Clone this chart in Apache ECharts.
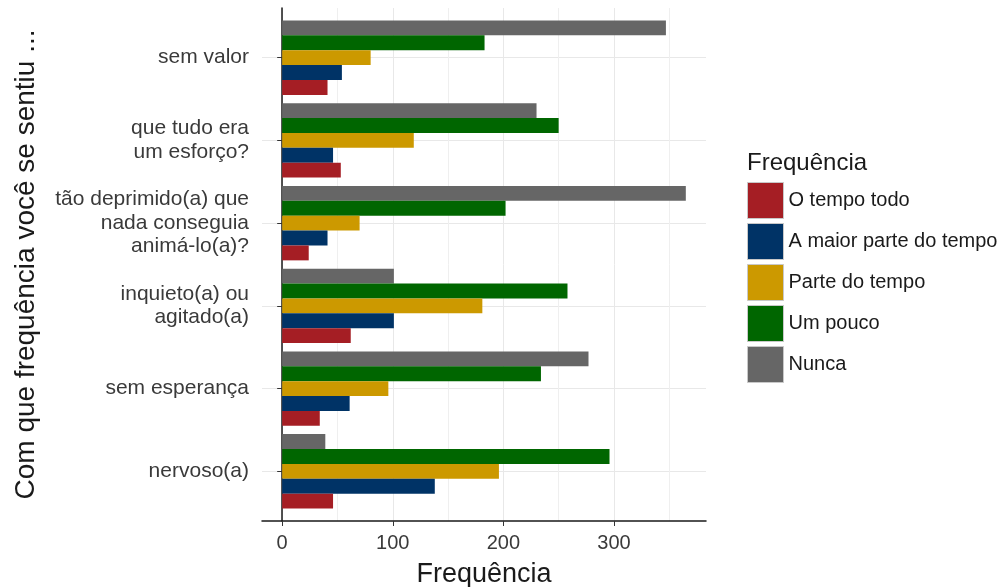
<!DOCTYPE html>
<html><head><meta charset="utf-8">
<script src="https://cdn.jsdelivr.net/npm/echarts@6/dist/echarts.min.js"></script>
<style>html,body{margin:0;padding:0;background:#fff}#c{width:1004px;height:587px}</style>
</head><body><div id="c"></div>
<script>
// categories listed bottom -> top
const categories = ['nervoso(a)', 'sem esperança', 'inquieto(a) ou\nagitado(a)', 'tão deprimido(a) que\nnada conseguia\nanimá-lo(a)?', 'que tudo era\num esforço?', 'sem valor'];
const oTempoTodo   = [46, 34, 62, 24, 53, 41];
const aMaiorParte  = [138, 61, 101, 41, 46, 54];
const parteDoTempo = [196, 96, 181, 70, 119, 80];
const umPouco      = [296, 234, 258, 202, 250, 183];
const nunca        = [39, 277, 101, 365, 230, 347];
const seriesNames  = ['O tempo todo', 'A maior parte do tempo', 'Parte do tempo', 'Um pouco', 'Nunca'];
const xTicks = [0, 100, 200, 300];
const xMinorGrid = [50, 150, 250, 350];

const colors = {'O tempo todo':'#A51E24','A maior parte do tempo':'#003366','Parte do tempo':'#CC9900','Um pouco':'#006600','Nunca':'#666666'};
const values = {'O tempo todo':oTempoTodo,'A maior parte do tempo':aMaiorParte,'Parte do tempo':parteDoTempo,'Um pouco':umPouco,'Nunca':nunca};

const allVals = [].concat(oTempoTodo, aMaiorParte, parteDoTempo, umPouco, nunca);
const vmax = Math.max.apply(null, allVals);
const xMin = -0.05 * vmax, xMax = 1.05 * vmax;

const FONT = 'Liberation Sans, Arial, sans-serif';
const chart = echarts.init(document.getElementById('c'), null, {renderer: 'canvas'});

// top->bottom series order inside a group: Nunca on top
const drawOrder = seriesNames.slice().reverse();

chart.setOption({
  animation: false,
  backgroundColor: '#ffffff',
  textStyle: {fontFamily: FONT},
  title: {
    text: 'Frequência', left: 747, top: 151, padding: 0,
    textStyle: {fontSize: 24, fontWeight: 'normal', color: '#1a1a1a', fontFamily: FONT}
  },
  legend: {
    data: seriesNames, orient: 'vertical', left: 747, top: 182, padding: 0,
    itemWidth: 36, itemHeight: 36, itemGap: 4, icon: 'rect',
    itemStyle: {borderColor: '#c8c8c8', borderWidth: 1},
    textStyle: {fontSize: 20, lineHeight: 26, verticalAlign: 'bottom', color: '#1a1a1a', fontFamily: FONT}
  },
  grid: [
    {left: 262, right: 298, top: 8, bottom: 66, outerBoundsMode: 'none', containLabel: false},
    {left: 262, right: 298, top: 57.65, bottom: 115.65, outerBoundsMode: 'none', containLabel: false}
  ],
  xAxis: [
    {
      type: 'value', gridIndex: 0, min: xMin, max: xMax,
      name: 'Frequência', nameLocation: 'middle', nameGap: 40,
      nameTextStyle: {fontSize: 27, color: '#1a1a1a', fontFamily: FONT},
      axisLine: {show: true, lineStyle: {color: '#1a1a1a', width: 1.5}},
      axisTick: {show: true, length: 5, customValues: xTicks, lineStyle: {color: '#333', width: 1}},
      axisLabel: {customValues: xTicks, margin: 12, fontSize: 20, color: '#3a3a3a', fontFamily: FONT},
      splitLine: {show: true, lineStyle: {color: '#e8e8e8', width: 1}}
    },
    {
      type: 'value', gridIndex: 0, min: xMin, max: xMax,
      axisLine: {show: false},
      axisTick: {show: false, customValues: xMinorGrid},
      axisLabel: {show: false, customValues: xMinorGrid},
      splitLine: {show: true, lineStyle: {color: '#efefef', width: 1}}
    },
    {
      type: 'value', gridIndex: 1, min: xMin, max: xMax, show: false
    }
  ],
  yAxis: [
    {
      type: 'value', gridIndex: 0, min: 0, max: 1,
      name: 'Com que frequência você se sentiu ...', nameLocation: 'middle', nameRotate: 90, nameGap: 222,
      nameTextStyle: {fontSize: 28, color: '#1a1a1a', fontFamily: FONT},
      axisLine: {show: true, lineStyle: {color: '#1a1a1a', width: 1.5}},
      axisTick: {show: false}, axisLabel: {show: false}, splitLine: {show: false}
    },
    {
      type: 'category', gridIndex: 1, data: categories, boundaryGap: false,
      axisLine: {show: false},
      axisTick: {show: true, length: 5, lineStyle: {color: '#333', width: 1}},
      axisLabel: {margin: 13, fontSize: 21, lineHeight: 23.5, color: '#3a3a3a', align: 'right', fontFamily: FONT},
      splitLine: {show: true, lineStyle: {color: '#e8e8e8', width: 1}}
    }
  ],
  series: drawOrder.map(function (n) {
    return {
      name: n, type: 'bar', xAxisIndex: 2, yAxisIndex: 1,
      data: values[n], barGap: '0%', barCategoryGap: '10%', clip: false,
      itemStyle: {color: colors[n]}
    };
  })
});
</script>
</body></html>
